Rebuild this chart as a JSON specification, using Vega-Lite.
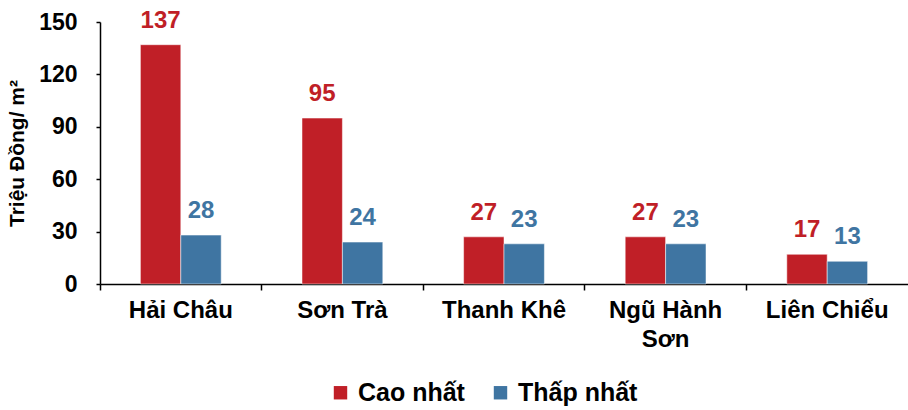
{
  "$schema": "https://vega.github.io/schema/vega-lite/v6.json",
  "width": 808,
  "height": 262,
  "autosize": {"type": "none"},
  "padding": {"left": 100, "top": 22, "right": 0, "bottom": 126},
  "background": "white",
  "config": {
    "view": {"stroke": null},
    "font": "Liberation Sans"
  },
  "data": {
    "values": [
      {"district": "Hải Châu", "type": "Cao nhất", "value": 137},
      {"district": "Hải Châu", "type": "Thấp nhất", "value": 28},
      {"district": "Sơn Trà", "type": "Cao nhất", "value": 95},
      {"district": "Sơn Trà", "type": "Thấp nhất", "value": 24},
      {"district": "Thanh Khê", "type": "Cao nhất", "value": 27},
      {"district": "Thanh Khê", "type": "Thấp nhất", "value": 23},
      {"district": "Ngũ Hành Sơn", "type": "Cao nhất", "value": 27},
      {"district": "Ngũ Hành Sơn", "type": "Thấp nhất", "value": 23},
      {"district": "Liên Chiểu", "type": "Cao nhất", "value": 17},
      {"district": "Liên Chiểu", "type": "Thấp nhất", "value": 13}
    ]
  },
  "encoding": {
    "x": {
      "field": "district",
      "type": "nominal",
      "sort": null,
      "scale": {"paddingInner": 0, "paddingOuter": 0},
      "axis": {
        "title": null,
        "labelAngle": 0,
        "bandPosition": 0,
        "domainColor": "black",
        "domainWidth": 1.5,
        "tickColor": "black",
        "tickWidth": 1.5,
        "tickSize": 6,
        "labelFont": "Liberation Sans",
        "labelFontWeight": "bold",
        "labelFontSize": 24,
        "labelColor": "black",
        "labelPadding": 8,
        "labelLineHeight": 29,
        "labelExpr": "datum.value == 'Ngũ Hành Sơn' ? ['Ngũ  Hành', 'Sơn'] : datum.value"
      }
    },
    "xOffset": {
      "field": "type",
      "type": "nominal",
      "sort": ["Cao nhất", "Thấp nhất"],
      "scale": {"paddingInner": 0, "paddingOuter": 1.1}
    }
  },
  "layer": [
    {
      "mark": {"type": "bar", "stroke": "white", "strokeWidth": 0.5},
      "encoding": {
        "y": {
          "field": "value",
          "type": "quantitative",
          "scale": {"domain": [0, 150], "nice": false},
          "axis": {
            "title": "Triệu Đồng/ m²",
            "titleFont": "Liberation Sans",
            "titleFontSize": 21,
            "titleFontWeight": "bold",
            "titleColor": "black",
            "titlePadding": 11,
            "values": [0, 30, 60, 90, 120, 150],
            "grid": false,
            "domainColor": "black",
            "domainWidth": 1.5,
            "tickColor": "black",
            "tickWidth": 1.5,
            "tickSize": 4,
            "labelFont": "Liberation Sans",
            "labelFontWeight": "bold",
            "labelFontSize": 23,
            "labelColor": "black",
            "labelPadding": 19
          }
        },
        "color": {
          "field": "type",
          "type": "nominal",
          "scale": {"domain": ["Cao nhất", "Thấp nhất"], "range": ["#C01F27", "#3F75A2"]},
          "legend": {
            "title": null,
            "orient": "none",
            "direction": "horizontal",
            "legendX": 228,
            "legendY": 358,
            "symbolType": "square",
            "symbolSize": 180,
            "symbolStrokeWidth": 0,
            "labelFont": "Liberation Sans",
            "labelFontSize": 25,
            "labelFontWeight": "bold",
            "labelColor": "black",
            "labelOffset": 5,
            "columnPadding": 23,
            "labelLimit": 300
          }
        }
      }
    },
    {
      "mark": {"type": "text", "baseline": "alphabetic", "dy": -17, "font": "Liberation Sans", "fontSize": 24, "fontWeight": "bold"},
      "encoding": {
        "y": {"field": "value", "type": "quantitative"},
        "text": {"field": "value", "type": "quantitative"},
        "color": {"field": "type", "type": "nominal", "legend": null}
      }
    }
  ]
}
